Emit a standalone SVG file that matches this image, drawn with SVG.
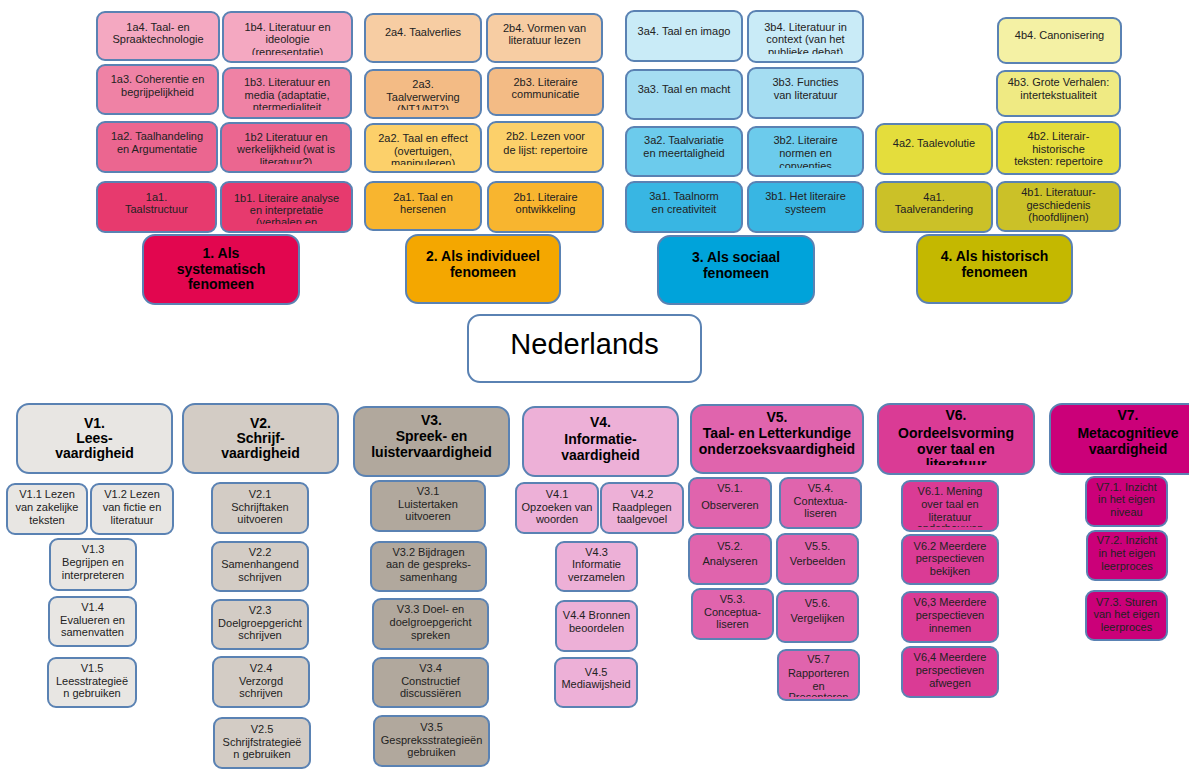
<svg xmlns="http://www.w3.org/2000/svg" width="1189" height="771" viewBox="0 0 1189 771">
<style>
rect{stroke:#5a82b3;stroke-width:2}
.sm{rx:8;ry:8}
.lg{rx:12;ry:12}
text{font-family:"Liberation Sans",Arial,sans-serif;text-anchor:middle}
.t{font-size:11px;fill:#222}
.h{font-size:14px;font-weight:bold;fill:#000}
.p1{fill:#f4a8c1}.p2{fill:#ef82a5}.p3{fill:#eb6690}.p4{fill:#e73a6e}.p5{fill:#e2064f}
.o1{fill:#f7cda3}.o2{fill:#f3bb85}.o3{fill:#fcd06a}.o4{fill:#f8b52f}.o5{fill:#f4a700}
.s1{fill:#c9ebf7}.s2{fill:#a5ddf2}.s3{fill:#6ccbec}.s4{fill:#38b6e3}.s5{fill:#00a3da}
.y1{fill:#f4f1a4}.y2{fill:#efea83}.y3{fill:#e4dd3c}.y4{fill:#cbc128}.y5{fill:#c4b800}
.v1{fill:#e8e6e3}.v2{fill:#d3ccc5}.v3{fill:#b1a89d}.v4{fill:#edb0d7}.v5{fill:#e064ad}.v6{fill:#da3b95}.v7{fill:#cb0079}
.w{fill:#fff}
</style>
<defs>
<clipPath id="c1b4" clipPathUnits="userSpaceOnUse"><rect x="223" y="12" width="129" height="43"/></clipPath>
<clipPath id="c1b3" clipPathUnits="userSpaceOnUse"><rect x="223" y="68" width="128" height="42"/></clipPath>
<clipPath id="c1b2" clipPathUnits="userSpaceOnUse"><rect x="221" y="123" width="130" height="41"/></clipPath>
<clipPath id="c1b1" clipPathUnits="userSpaceOnUse"><rect x="221" y="182" width="131" height="42"/></clipPath>
<clipPath id="c2a3" clipPathUnits="userSpaceOnUse"><rect x="365" y="70" width="116" height="40"/></clipPath>
<clipPath id="c2a2" clipPathUnits="userSpaceOnUse"><rect x="365" y="124" width="116" height="41"/></clipPath>
<clipPath id="c3b4" clipPathUnits="userSpaceOnUse"><rect x="748" y="11" width="115" height="43"/></clipPath>
<clipPath id="c3b2" clipPathUnits="userSpaceOnUse"><rect x="748" y="127" width="115" height="41"/></clipPath>
<clipPath id="cV57" clipPathUnits="userSpaceOnUse"><rect x="778" y="650" width="81" height="47"/></clipPath>
<clipPath id="cV6" clipPathUnits="userSpaceOnUse"><rect x="878" y="404" width="156" height="61"/></clipPath>
<clipPath id="cV61" clipPathUnits="userSpaceOnUse"><rect x="902" y="481" width="96" height="46"/></clipPath>
</defs>
<rect x="0" y="0" width="1189" height="771" style="fill:#fff;stroke:none"/>
<g id="connectors"></g>

<!-- Section 1 -->
<g id="n1a4"><rect class="sm p1" x="97" y="12" width="122" height="48"/><text class="t" x="158" y="30.7"><tspan x="158">1a4. Taal- en</tspan><tspan x="158" dy="12.5">Spraaktechnologie</tspan></text></g>
<g id="n1b4"><rect class="sm p1" x="223" y="12" width="129" height="50"/><text class="t" x="287.5" y="30.7" clip-path="url(#c1b4)"><tspan x="287.5">1b4. Literatuur en</tspan><tspan x="287.5" dy="12.5">ideologie</tspan><tspan x="287.5" dy="12.5">(representatie)</tspan></text></g>
<g id="n1a3"><rect class="sm p2" x="97" y="65" width="121" height="49"/><text class="t" x="157.5" y="83"><tspan x="157.5">1a3. Coherentie en</tspan><tspan x="157.5" dy="13">begrijpelijkheid</tspan></text></g>
<g id="n1b3"><rect class="sm p2" x="223" y="68" width="128" height="50"/><text class="t" x="287" y="86.3" clip-path="url(#c1b3)"><tspan x="287">1b3. Literatuur en</tspan><tspan x="287" dy="12.5">media (adaptatie,</tspan><tspan x="287" dy="12.5">ntermedialiteit</tspan></text></g>
<g id="n1a2"><rect class="sm p3" x="97" y="122" width="120" height="50"/><text class="t" x="157" y="140"><tspan x="157">1a2. Taalhandeling</tspan><tspan x="157" dy="13">en Argumentatie</tspan></text></g>
<g id="n1b2"><rect class="sm p3" x="221" y="123" width="130" height="49"/><text class="t" x="286" y="140.5" clip-path="url(#c1b2)"><tspan x="286">1b2 Literatuur en</tspan><tspan x="286" dy="12.8">werkelijkheid (wat is</tspan><tspan x="286" dy="12.8">literatuur?)</tspan></text></g>
<g id="n1a1"><rect class="sm p4" x="97" y="182" width="119" height="50"/><text class="t" x="156.5" y="200.7"><tspan x="156.5">1a1.</tspan><tspan x="156.5" dy="12.5">Taalstructuur</tspan></text></g>
<g id="n1b1"><rect class="sm p4" x="221" y="182" width="131" height="50"/><text class="t" x="286.5" y="201.5" clip-path="url(#c1b1)"><tspan x="286.5">1b1. Literaire analyse</tspan><tspan x="286.5" dy="12">en interpretatie</tspan><tspan x="286.5" dy="12.5">(verhalen en</tspan></text></g>
<g id="n1"><rect class="lg p5" x="143" y="235" width="156" height="69"/><text class="h" x="221" y="258.3"><tspan x="221">1. Als</tspan><tspan x="221" dy="15.5">systematisch</tspan><tspan x="221" dy="15.5">fenomeen</tspan></text></g>

<!-- Section 2 -->
<g id="n2a4"><rect class="sm o1" x="365" y="14" width="116" height="48"/><text class="t" x="423" y="36"><tspan x="423">2a4. Taalverlies</tspan></text></g>
<g id="n2b4"><rect class="sm o1" x="487" y="14" width="115" height="48"/><text class="t" x="544.5" y="32.3"><tspan x="544.5">2b4. Vormen van</tspan><tspan x="544.5" dy="12">literatuur lezen</tspan></text></g>
<g id="n2a3"><rect class="sm o2" x="365" y="70" width="116" height="48"/><text class="t" x="423" y="88" clip-path="url(#c2a3)"><tspan x="423">2a3.</tspan><tspan x="423" dy="12.5">Taalverwerving</tspan><tspan x="423" dy="12">(NT1/NT2)</tspan></text></g>
<g id="n2b3"><rect class="sm o2" x="488" y="68" width="115" height="47"/><text class="t" x="545.5" y="86.3"><tspan x="545.5">2b3. Literaire</tspan><tspan x="545.5" dy="12">communicatie</tspan></text></g>
<g id="n2a2"><rect class="sm o3" x="365" y="124" width="116" height="48"/><text class="t" x="423" y="142.3" clip-path="url(#c2a2)"><tspan x="423">2a2. Taal en effect</tspan><tspan x="423" dy="12.5">(overtuigen,</tspan><tspan x="423" dy="12.5">manipuleren)</tspan></text></g>
<g id="n2b2"><rect class="sm o3" x="488" y="122" width="115" height="50"/><text class="t" x="545.5" y="140"><tspan x="545.5">2b2. Lezen voor</tspan><tspan x="545.5" dy="14">de lijst: repertoire</tspan></text></g>
<g id="n2a1"><rect class="sm o4" x="365" y="182" width="116" height="48"/><text class="t" x="423" y="200.7"><tspan x="423">2a1. Taal en</tspan><tspan x="423" dy="12.5">hersenen</tspan></text></g>
<g id="n2b1"><rect class="sm o4" x="488" y="182" width="115" height="50"/><text class="t" x="545.5" y="200.7"><tspan x="545.5">2b1. Literaire</tspan><tspan x="545.5" dy="12.5">ontwikkeling</tspan></text></g>
<g id="n2"><rect class="lg o5" x="406" y="235" width="154" height="68"/><text class="h" x="483" y="260.7"><tspan x="483">2. Als individueel</tspan><tspan x="483" dy="16">fenomeen</tspan></text></g>

<!-- Section 3 -->
<g id="n3a4"><rect class="sm s1" x="626" y="11" width="116" height="50"/><text class="t" x="684" y="35"><tspan x="684">3a4. Taal en imago</tspan></text></g>
<g id="n3b4"><rect class="sm s1" x="748" y="11" width="115" height="51"/><text class="t" x="805.5" y="30.7" clip-path="url(#c3b4)"><tspan x="805.5">3b4. Literatuur in</tspan><tspan x="805.5" dy="12.5">context (van het</tspan><tspan x="805.5" dy="12.5">publieke debat)</tspan></text></g>
<g id="n3a3"><rect class="sm s2" x="626" y="70" width="116" height="49"/><text class="t" x="684" y="93"><tspan x="684">3a3. Taal en macht</tspan></text></g>
<g id="n3b3"><rect class="sm s2" x="748" y="68" width="115" height="50"/><text class="t" x="805.5" y="86.3"><tspan x="805.5">3b3. Functies</tspan><tspan x="805.5" dy="12.5">van literatuur</tspan></text></g>
<g id="n3a2"><rect class="sm s3" x="626" y="127" width="116" height="49"/><text class="t" x="684" y="144"><tspan x="684">3a2. Taalvariatie</tspan><tspan x="684" dy="12.5">en meertaligheid</tspan></text></g>
<g id="n3b2"><rect class="sm s3" x="748" y="127" width="115" height="49"/><text class="t" x="805.5" y="144" clip-path="url(#c3b2)"><tspan x="805.5">3b2. Literaire</tspan><tspan x="805.5" dy="13">normen en</tspan><tspan x="805.5" dy="12.5">conventies</tspan></text></g>
<g id="n3a1"><rect class="sm s4" x="626" y="182" width="116" height="50"/><text class="t" x="684" y="200"><tspan x="684">3a1. Taalnorm</tspan><tspan x="684" dy="12.5">en creativiteit</tspan></text></g>
<g id="n3b1"><rect class="sm s4" x="748" y="182" width="115" height="50"/><text class="t" x="805.5" y="200"><tspan x="805.5">3b1. Het literaire</tspan><tspan x="805.5" dy="12.5">systeem</tspan></text></g>
<g id="n3"><rect class="lg s5" x="658" y="236" width="156" height="68"/><text class="h" x="736" y="261.7"><tspan x="736">3. Als sociaal</tspan><tspan x="736" dy="16.5">fenomeen</tspan></text></g>

<!-- Section 4 -->
<g id="n4b4"><rect class="sm y1" x="998" y="18" width="123" height="45"/><text class="t" x="1059.5" y="39"><tspan x="1059.5">4b4. Canonisering</tspan></text></g>
<g id="n4b3"><rect class="sm y2" x="997" y="71" width="123" height="45"/><text class="t" x="1058.5" y="86.3"><tspan x="1058.5">4b3. Grote Verhalen:</tspan><tspan x="1058.5" dy="12.5">intertekstualiteit</tspan></text></g>
<g id="n4a2"><rect class="sm y3" x="876" y="124" width="116" height="50"/><text class="t" x="934" y="147.3"><tspan x="934">4a2. Taalevolutie</tspan></text></g>
<g id="n4b2"><rect class="sm y3" x="997" y="122" width="123" height="52"/><text class="t" x="1058.5" y="139.7"><tspan x="1058.5">4b2. Literair-</tspan><tspan x="1058.5" dy="13">historische</tspan><tspan x="1058.5" dy="12.7">teksten: repertoire</tspan></text></g>
<g id="n4a1"><rect class="sm y4" x="876" y="182" width="116" height="50"/><text class="t" x="934" y="200.7"><tspan x="934">4a1.</tspan><tspan x="934" dy="12.5">Taalverandering</tspan></text></g>
<g id="n4b1"><rect class="sm y4" x="997" y="182" width="123" height="49"/><text class="t" x="1058.5" y="196.3"><tspan x="1058.5">4b1. Literatuur-</tspan><tspan x="1058.5" dy="12.5">geschiedenis</tspan><tspan x="1058.5" dy="12.5">(hoofdlijnen)</tspan></text></g>
<g id="n4"><rect class="lg y5" x="917" y="235" width="155" height="68"/><text class="h" x="994.5" y="260.7"><tspan x="994.5">4. Als historisch</tspan><tspan x="994.5" dy="16">fenomeen</tspan></text></g>

<!-- Center -->
<g id="nederlands"><rect class="lg w" x="468" y="315" width="233" height="67"/><text x="584.5" y="353.5" style="font-size:29px;fill:#000">Nederlands</text></g>

<!-- V1 -->
<g id="V1"><rect class="lg v1" x="17" y="404" width="155" height="69"/><text class="h" x="94.5" y="428.3"><tspan x="94.5">V1.</tspan><tspan x="94.5" dy="15">Lees-</tspan><tspan x="94.5" dy="15">vaardigheid</tspan></text></g>
<g id="V1-1"><rect class="sm v1" x="7" y="484" width="80" height="50"/><text class="t" x="47" y="498.3"><tspan x="47">V1.1 Lezen</tspan><tspan x="47" dy="12.8">van zakelijke</tspan><tspan x="47" dy="12.8">teksten</tspan></text></g>
<g id="V1-2"><rect class="sm v1" x="91" y="484" width="82" height="50"/><text class="t" x="132" y="498.3"><tspan x="132">V1.2 Lezen</tspan><tspan x="132" dy="12.8">van fictie en</tspan><tspan x="132" dy="12.8">literatuur</tspan></text></g>
<g id="V1-3"><rect class="sm v1" x="50" y="539" width="86" height="51"/><text class="t" x="93" y="553.3"><tspan x="93">V1.3</tspan><tspan x="93" dy="12.8">Begrijpen en</tspan><tspan x="93" dy="12.8">interpreteren</tspan></text></g>
<g id="V1-4"><rect class="sm v1" x="49" y="597" width="87" height="49"/><text class="t" x="92.5" y="610.7"><tspan x="92.5">V1.4</tspan><tspan x="92.5" dy="12.8">Evalueren en</tspan><tspan x="92.5" dy="12.8">samenvatten</tspan></text></g>
<g id="V1-5"><rect class="sm v1" x="48" y="658" width="88" height="49"/><text class="t" x="92" y="671.7"><tspan x="92">V1.5</tspan><tspan x="92" dy="12.8">Leesstrategieë</tspan><tspan x="92" dy="12.8">n gebruiken</tspan></text></g>

<!-- V2 -->
<g id="V2"><rect class="lg v2" x="183" y="404" width="155" height="69"/><text class="h" x="260.5" y="428.3"><tspan x="260.5">V2.</tspan><tspan x="260.5" dy="15">Schrijf-</tspan><tspan x="260.5" dy="15">vaardigheid</tspan></text></g>
<g id="V2-1"><rect class="sm v2" x="212" y="483" width="96" height="50"/><text class="t" x="260" y="498"><tspan x="260">V2.1</tspan><tspan x="260" dy="12.6">Schrijftaken</tspan><tspan x="260" dy="12.6">uitvoeren</tspan></text></g>
<g id="V2-2"><rect class="sm v2" x="212" y="542" width="96" height="49"/><text class="t" x="260" y="555.7"><tspan x="260">V2.2</tspan><tspan x="260" dy="12.6">Samenhangend</tspan><tspan x="260" dy="12.6">schrijven</tspan></text></g>
<g id="V2-3"><rect class="sm v2" x="212" y="600" width="96" height="49"/><text class="t" x="260" y="614"><tspan x="260">V2.3</tspan><tspan x="260" dy="12.6">Doelgroepgericht</tspan><tspan x="260" dy="12.6">schrijven</tspan></text></g>
<g id="V2-4"><rect class="sm v2" x="213" y="657" width="96" height="50"/><text class="t" x="261" y="671.7"><tspan x="261">V2.4</tspan><tspan x="261" dy="12.8">Verzorgd</tspan><tspan x="261" dy="12.8">schrijven</tspan></text></g>
<g id="V2-5"><rect class="sm v2" x="214" y="718" width="96" height="50"/><text class="t" x="262" y="733.3"><tspan x="262">V2.5</tspan><tspan x="262" dy="12.5">Schrijfstrategieë</tspan><tspan x="262" dy="12.5">n gebruiken</tspan></text></g>

<!-- V3 -->
<g id="V3"><rect class="lg v3" x="354" y="407" width="155" height="69"/><text class="h" x="431.5" y="425"><tspan x="431.5">V3.</tspan><tspan x="431.5" dy="15.5">Spreek- en</tspan><tspan x="431.5" dy="16">luistervaardigheid</tspan></text></g>
<g id="V3-1"><rect class="sm v3" x="371" y="481" width="114" height="50"/><text class="t" x="428" y="494.7"><tspan x="428">V3.1</tspan><tspan x="428" dy="13">Luistertaken</tspan><tspan x="428" dy="12.7">uitvoeren</tspan></text></g>
<g id="V3-2"><rect class="sm v3" x="371" y="542" width="115" height="49"/><text class="t" x="428.5" y="555.7"><tspan x="428.5">V3.2 Bijdragen</tspan><tspan x="428.5" dy="12.6">aan de gespreks-</tspan><tspan x="428.5" dy="12.6">samenhang</tspan></text></g>
<g id="V3-3"><rect class="sm v3" x="373" y="599" width="115" height="50"/><text class="t" x="430.5" y="613.3"><tspan x="430.5">V3.3 Doel- en</tspan><tspan x="430.5" dy="12.7">doelgroepgericht</tspan><tspan x="430.5" dy="12.7">spreken</tspan></text></g>
<g id="V3-4"><rect class="sm v3" x="373" y="658" width="115" height="49"/><text class="t" x="430.5" y="671.7"><tspan x="430.5">V3.4</tspan><tspan x="430.5" dy="12.8">Constructief</tspan><tspan x="430.5" dy="12.8">discussiëren</tspan></text></g>
<g id="V3-5"><rect class="sm v3" x="374" y="716" width="115" height="50"/><text class="t" x="431.5" y="730.7"><tspan x="431.5">V3.5</tspan><tspan x="431.5" dy="13">Gespreksstrategieën</tspan><tspan x="431.5" dy="12.7">gebruiken</tspan></text></g>

<!-- V4 -->
<g id="V4"><rect class="lg v4" x="523" y="407" width="155" height="69"/><text class="h" x="600.5" y="426.7"><tspan x="600.5">V4.</tspan><tspan x="600.5" dy="17">Informatie-</tspan><tspan x="600.5" dy="16">vaardigheid</tspan></text></g>
<g id="V4-1"><rect class="sm v4" x="516" y="483" width="82" height="50"/><text class="t" x="557" y="498.3"><tspan x="557">V4.1</tspan><tspan x="557" dy="12.4">Opzoeken van</tspan><tspan x="557" dy="12.4">woorden</tspan></text></g>
<g id="V4-2"><rect class="sm v4" x="601" y="483" width="82" height="50"/><text class="t" x="642" y="498.3"><tspan x="642">V4.2</tspan><tspan x="642" dy="12.4">Raadplegen</tspan><tspan x="642" dy="12.4">taalgevoel</tspan></text></g>
<g id="V4-3"><rect class="sm v4" x="556" y="542" width="81" height="49"/><text class="t" x="596.5" y="555.7"><tspan x="596.5">V4.3</tspan><tspan x="596.5" dy="12.5">Informatie</tspan><tspan x="596.5" dy="12.5">verzamelen</tspan></text></g>
<g id="V4-4"><rect class="sm v4" x="556" y="601" width="81" height="50"/><text class="t" x="596.5" y="619"><tspan x="596.5">V4.4 Bronnen</tspan><tspan x="596.5" dy="12.7">beoordelen</tspan></text></g>
<g id="V4-5"><rect class="sm v4" x="555" y="658" width="82" height="49"/><text class="t" x="596" y="675.7"><tspan x="596">V4.5</tspan><tspan x="596" dy="12.3">Mediawijsheid</tspan></text></g>

<!-- V5 -->
<g id="V5"><rect class="lg v5" x="691" y="405" width="172" height="68"/><text class="h" x="777" y="421.7"><tspan x="777">V5.</tspan><tspan x="777" dy="16.6">Taal- en Letterkundige</tspan><tspan x="777" dy="16">onderzoeksvaardigheid</tspan></text></g>
<g id="V5-1"><rect class="sm v5" x="689" y="478" width="82" height="50"/><text class="t" x="730" y="492.3"><tspan x="730">V5.1.</tspan><tspan x="730" dy="16.7">Observeren</tspan></text></g>
<g id="V5-4"><rect class="sm v5" x="780" y="478" width="81" height="50"/><text class="t" x="820.5" y="492.3"><tspan x="820.5">V5.4.</tspan><tspan x="820.5" dy="12.5">Contextua-</tspan><tspan x="820.5" dy="12.5">liseren</tspan></text></g>
<g id="V5-2"><rect class="sm v5" x="689" y="534" width="82" height="50"/><text class="t" x="730" y="549.7"><tspan x="730">V5.2.</tspan><tspan x="730" dy="15">Analyseren</tspan></text></g>
<g id="V5-5"><rect class="sm v5" x="777" y="534" width="81" height="50"/><text class="t" x="817.5" y="549.7"><tspan x="817.5">V5.5.</tspan><tspan x="817.5" dy="15">Verbeelden</tspan></text></g>
<g id="V5-3"><rect class="sm v5" x="692" y="589" width="81" height="50"/><text class="t" x="732.5" y="603.3"><tspan x="732.5">V5.3.</tspan><tspan x="732.5" dy="13">Conceptua-</tspan><tspan x="732.5" dy="12">liseren</tspan></text></g>
<g id="V5-6"><rect class="sm v5" x="777" y="591" width="81" height="51"/><text class="t" x="817.5" y="607.3"><tspan x="817.5">V5.6.</tspan><tspan x="817.5" dy="14.4">Vergelijken</tspan></text></g>
<g id="V5-7"><rect class="sm v5" x="778" y="650" width="81" height="50"/><text class="t" x="818.5" y="663.3" clip-path="url(#cV57)"><tspan x="818.5">V5.7</tspan><tspan x="818.5" dy="13.3">Rapporteren</tspan><tspan x="818.5" dy="13">en</tspan><tspan x="818.5" dy="11">Presenteren</tspan></text></g>

<!-- V6 -->
<g id="V6"><rect class="lg v6" x="878" y="404" width="156" height="70"/><text class="h" x="956" y="420" clip-path="url(#cV6)"><tspan x="956">V6.</tspan><tspan x="956" dy="18">Oordeelsvorming</tspan><tspan x="956" dy="16">over taal en</tspan><tspan x="956" dy="14.5">literatuur</tspan></text></g>
<g id="V6-1"><rect class="sm v6" x="902" y="481" width="96" height="50"/><text class="t" x="950" y="494.7" clip-path="url(#cV61)"><tspan x="950">V6.1. Mening</tspan><tspan x="950" dy="13.3">over taal en</tspan><tspan x="950" dy="12.7">literatuur</tspan><tspan x="950" dy="11.5">onderbouwen</tspan></text></g>
<g id="V6-2"><rect class="sm v6" x="902" y="535" width="96" height="49"/><text class="t" x="950" y="549.7"><tspan x="950">V6.2 Meerdere</tspan><tspan x="950" dy="12.7">perspectieven</tspan><tspan x="950" dy="12.7">bekijken</tspan></text></g>
<g id="V6-3"><rect class="sm v6" x="902" y="592" width="96" height="50"/><text class="t" x="950" y="606.3"><tspan x="950">V6,3 Meerdere</tspan><tspan x="950" dy="12.8">perspectieven</tspan><tspan x="950" dy="13">innemen</tspan></text></g>
<g id="V6-4"><rect class="sm v6" x="902" y="647" width="96" height="50"/><text class="t" x="950" y="661.3"><tspan x="950">V6,4 Meerdere</tspan><tspan x="950" dy="12.8">perspectieven</tspan><tspan x="950" dy="13">afwegen</tspan></text></g>

<!-- V7 -->
<g id="V7"><rect class="lg v7" x="1050" y="404" width="155" height="70"/><text class="h" x="1128" y="420"><tspan x="1128">V7.</tspan><tspan x="1128" dy="18">Metacognitieve</tspan><tspan x="1128" dy="16">vaardigheid</tspan></text></g>
<g id="V7-1"><rect class="sm v7" x="1086" y="477" width="81" height="49"/><text class="t" x="1126.5" y="490.7"><tspan x="1126.5">V7.1. Inzicht</tspan><tspan x="1126.5" dy="12.5">in het eigen</tspan><tspan x="1126.5" dy="12.5">niveau</tspan></text></g>
<g id="V7-2"><rect class="sm v7" x="1087" y="531" width="80" height="49"/><text class="t" x="1127" y="544"><tspan x="1127">V7.2. Inzicht</tspan><tspan x="1127" dy="13">in het eigen</tspan><tspan x="1127" dy="12.7">leerproces</tspan></text></g>
<g id="V7-3"><rect class="sm v7" x="1086" y="591" width="81" height="49"/><text class="t" x="1126.5" y="605.7"><tspan x="1126.5">V7.3. Sturen</tspan><tspan x="1126.5" dy="12.4">van het eigen</tspan><tspan x="1126.5" dy="12.6">leerproces</tspan></text></g>
</svg>
